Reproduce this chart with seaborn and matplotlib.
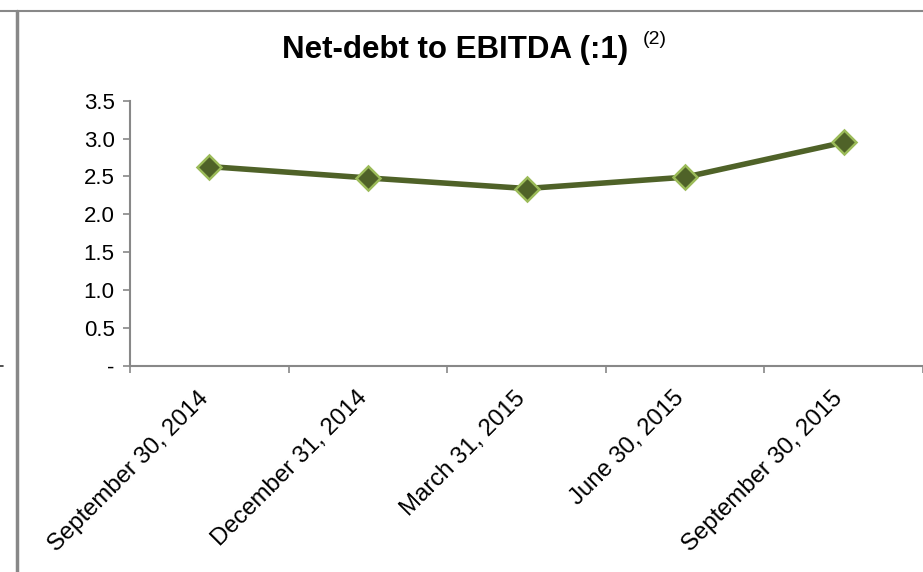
import matplotlib
matplotlib.use("Agg")
import matplotlib.pyplot as plt
import seaborn as sns
import pandas as pd
from matplotlib.lines import Line2D

categories = ["September 30, 2014", "December 31, 2014", "March 31, 2015",
              "June 30, 2015", "September 30, 2015"]
values = [2.63, 2.48, 2.34, 2.49, 2.95]
ytick_values = [0, 0.5, 1.0, 1.5, 2.0, 2.5, 3.0, 3.5]
ytick_labels = ["-", "0.5", "1.0", "1.5", "2.0", "2.5", "3.0", "3.5"]

sns.set_style("white")
plt.rcParams["font.family"] = ["Liberation Sans", "DejaVu Sans"]
plt.rcParams["text.color"] = "black"
plt.rcParams["xtick.labelcolor"] = "black"
plt.rcParams["ytick.labelcolor"] = "black"

df = pd.DataFrame({"date": categories, "ratio": values})

fig = plt.figure(figsize=(9.23, 5.72), dpi=100)
ax = fig.add_axes([130 / 923, 1 - 365.7 / 572, 793 / 923, (365.7 - 100.7) / 572])

sns.lineplot(data=df, x="date", y="ratio", ax=ax, sort=False,
             color="#4F6228", linewidth=4.0, marker="D", markersize=12,
             markerfacecolor="#4F6228", markeredgecolor="#9BBB59",
             markeredgewidth=1.8)

n = len(categories)
ax.set_xlim(-0.5, n - 0.5)
ax.set_ylim(0, 3.5)
ax.set_yticks(ytick_values)
ax.set_yticklabels(ytick_labels, fontsize=16, color="black")
ax.set_xticks(range(n))
ax.set_xticklabels(categories, fontsize=17.2, rotation=45, ha="right",
                   va="baseline", rotation_mode="anchor", color="black")
ax.tick_params(axis="x", length=0, pad=24)
ax.set_xticks([i - 0.5 for i in range(n + 1)], minor=True)
ax.tick_params(axis="x", which="minor", length=5, width=1.2, color="#888888",
               direction="out", bottom=True)
ax.tick_params(axis="y", length=5, width=1.2, color="#888888", direction="out",
               left=True, pad=6)
ax.set_xlabel("")
ax.set_ylabel("")
for s in ["top", "right"]:
    ax.spines[s].set_visible(False)
for s in ["left", "bottom"]:
    ax.spines[s].set_color("#888888")
    ax.spines[s].set_linewidth(1.5)
ax.grid(False)

fig.text(455 / 923, 1 - 50 / 572, "Net-debt to EBITDA (:1)", ha="center",
         va="center", fontsize=22.5, fontweight="bold", color="black")
fig.text(643 / 923, 1 - 40 / 572, "(2)", ha="left", va="center", fontsize=14,
         color="black")

# frame decorations
fig.add_artist(Line2D([0, 1], [1 - 11 / 572, 1 - 11 / 572],
                      transform=fig.transFigure, color="#888888", linewidth=1.5))
fig.add_artist(Line2D([17 / 923, 17 / 923], [0, 1 - 11 / 572],
                      transform=fig.transFigure, color="#888888", linewidth=2.5))
fig.add_artist(Line2D([0, 3 / 923], [1 - 366 / 572, 1 - 366 / 572],
                      transform=fig.transFigure, color="#333333", linewidth=1.2))

fig.savefig("out.png", dpi=100)
